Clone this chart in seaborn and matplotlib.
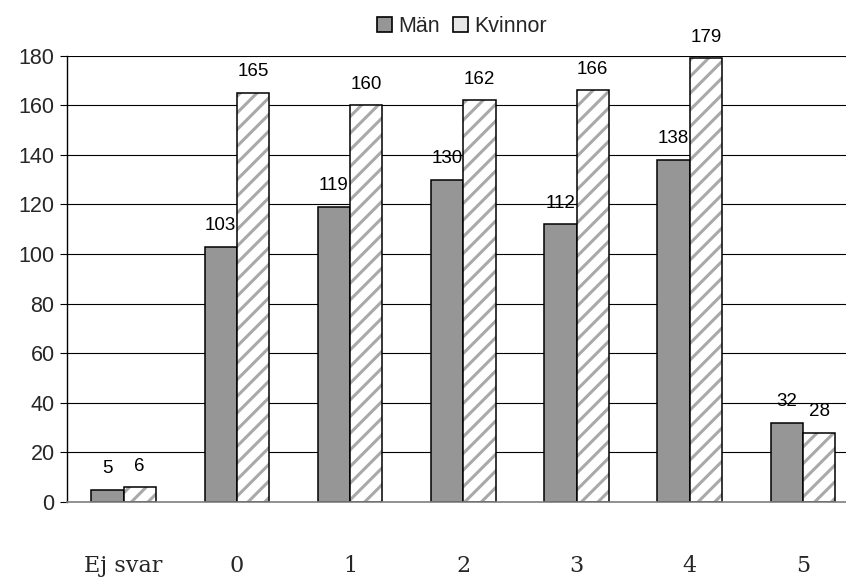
import matplotlib
matplotlib.use("Agg")
import matplotlib.pyplot as plt
from matplotlib.patches import Patch, Rectangle
import seaborn as sns
import pandas as pd

categories = ["Ej svar", "0", "1", "2", "3", "4", "5"]
man = [5, 103, 119, 130, 112, 138, 32]
kvinnor = [6, 165, 160, 162, 166, 179, 28]
series_names = ["Män", "Kvinnor"]
yticks = [0, 20, 40, 60, 80, 100, 120, 140, 160, 180]

df = pd.DataFrame({
    "cat": categories * 2,
    "value": man + kvinnor,
    "series": [series_names[0]] * len(categories) + [series_names[1]] * len(categories),
})

sns.set_style("white")
plt.rcParams["font.family"] = ["Liberation Sans", "DejaVu Sans"]
plt.rcParams["hatch.linewidth"] = 2.2

fig = plt.figure(figsize=(8.46, 5.83), dpi=100)
ax = fig.add_axes([67 / 846, 1 - 502 / 583, 1 - 67 / 846, (502 - 55.7) / 583])

sns.barplot(data=df, x="cat", y="value", hue="series", order=categories,
            hue_order=series_names, palette=["#969696", "white"],
            width=0.57, gap=0, saturation=1, edgecolor="black", linewidth=1.1,
            legend=False, ax=ax, zorder=3)

# hatch for Kvinnor with gray stripes and a black outline overlay
for p in ax.containers[1]:
    p.set_hatch("//")
    p.set_edgecolor("#a9a9a9")
    p.set_linewidth(0)
    ax.add_patch(Rectangle(p.get_xy(), p.get_width(), p.get_height(), fill=False,
                           edgecolor="black", linewidth=1.1, zorder=4))

for cont in ax.containers:
    ax.bar_label(cont, padding=9, fontsize=13.5, color="black")

ax.set_ylim(0, 180)
ax.set_xlim(-0.5, 6.38)
ax.set_yticks(yticks)
ax.yaxis.grid(True, color="black", linewidth=0.8)
ax.set_axisbelow(True)
ax.tick_params(axis="y", labelsize=15.5, length=5, width=0.8, color="black", direction="out", left=True, pad=4)
ax.tick_params(axis="x", length=0, pad=38)
for lab in ax.get_xticklabels():
    lab.set_fontfamily("DejaVu Serif")
    lab.set_fontsize(16)
ax.set_xlabel("")
ax.set_ylabel("")
for s in ["top", "right"]:
    ax.spines[s].set_visible(False)
ax.spines["left"].set_color("black")
ax.spines["left"].set_linewidth(1.0)
ax.spines["bottom"].set_color("#7f7f7f")
ax.spines["bottom"].set_linewidth(1.2)
ax.spines["bottom"].set_zorder(5)

handles = [Patch(facecolor="#969696", edgecolor="black", linewidth=1.2, label=series_names[0]),
           Patch(facecolor="#e6e6e6", edgecolor="black", linewidth=1.2, label=series_names[1])]
fig.legend(handles=handles, loc="center", bbox_to_anchor=(0.546, 0.954), ncol=2, frameon=False,
           fontsize=15.5, handlelength=0.7, handleheight=0.7, handletextpad=0.3, columnspacing=0.6)

fig.savefig("out.png", dpi=100)
